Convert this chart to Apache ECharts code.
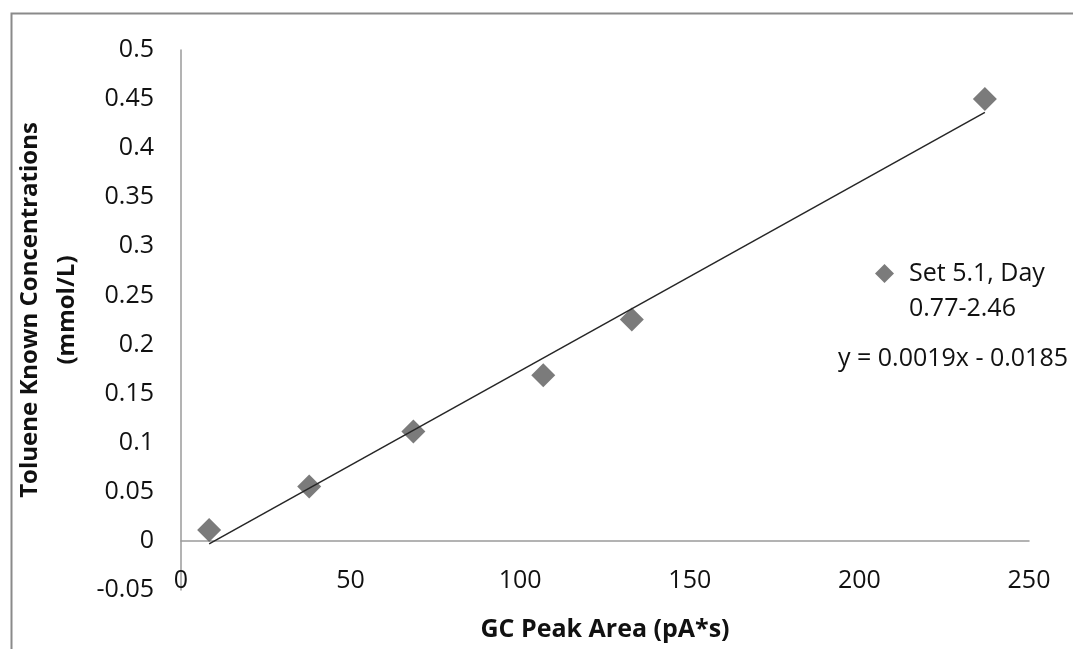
<!DOCTYPE html>
<html>
<head>
<meta charset="utf-8">
<script src="https://cdn.jsdelivr.net/npm/echarts@6/dist/echarts.min.js"></script>
<style>
html,body{margin:0;padding:0;background:#fff;}
#chart{width:1073px;height:649px;}
</style>
</head>
<body>
<div id="chart"></div>
<script>
// Data
var seriesName = 'Set 5.1, Day 0.77-2.46';
var peakArea = [8.3, 37.8, 68.5, 106.8, 132.9, 237.0];
var concentration = [0.0112, 0.0554, 0.1115, 0.1687, 0.2255, 0.450];
var equationLabel = 'y = 0.0019x - 0.0185';
var xTitle = 'GC Peak Area (pA*s)';
var yTitle = 'Toluene Known Concentrations\n(mmol/L)';

// linear least-squares trendline from the data
function fit(xs, ys) {
  var n = xs.length, mx = 0, my = 0;
  for (var i = 0; i < n; i++) { mx += xs[i]; my += ys[i]; }
  mx /= n; my /= n;
  var sxy = 0, sxx = 0;
  for (var j = 0; j < n; j++) { sxy += (xs[j]-mx)*(ys[j]-my); sxx += (xs[j]-mx)*(xs[j]-mx); }
  var b = sxy / sxx;
  return {slope: b, intercept: my - b*mx};
}
var f = fit(peakArea, concentration);
var xmin = Math.min.apply(null, peakArea), xmax = Math.max.apply(null, peakArea);
var trend = [[xmin, f.intercept + f.slope*xmin], [xmax, f.intercept + f.slope*xmax]];
var points = peakArea.map(function (x, i) { return [x, concentration[i]]; });

var font = '"Open Sans", "Noto Sans", sans-serif';
var txt = '#111';
var chart = echarts.init(document.getElementById('chart'));
chart.setOption({
  animation: false,
  backgroundColor: '#ffffff',
  textStyle: {fontFamily: font},
  grid: {left: 181, right: 44, top: 50, bottom: 59, containLabel: false, outerBoundsMode: 'none'},
  xAxis: {
    type: 'value', min: 0, max: 250, interval: 50,
    axisLine: {show: true, onZero: true, lineStyle: {color: '#9a9a9a', width: 1.5}},
    axisTick: {show: false},
    splitLine: {show: false},
    axisLabel: {color: txt, fontSize: 25, fontFamily: font, margin: -22},
    name: xTitle, nameLocation: 'middle', nameGap: 27,
    nameTextStyle: {color: txt, fontSize: 25, fontWeight: 'bold', fontFamily: font}
  },
  yAxis: {
    type: 'value', min: -0.05, max: 0.5, interval: 0.05,
    axisLine: {show: true, onZero: false, lineStyle: {color: '#9a9a9a', width: 1.5}},
    axisTick: {show: false},
    splitLine: {show: false},
    axisLabel: {color: txt, fontSize: 25, fontFamily: font, margin: 27},
    name: yTitle, nameLocation: 'middle', nameRotate: 90, nameGap: 92,
    nameTextStyle: {color: txt, fontSize: 24, fontWeight: 'bold', fontFamily: font, lineHeight: 37, padding: [0, 0, 0, 20]}
  },
  legend: {
    data: [seriesName],
    orient: 'vertical',
    left: 870, top: 216,
    icon: 'diamond',
    itemWidth: 19, itemHeight: 19, itemGap: 10,
    formatter: function () { return '\nSet 5.1, Day\n0.77-2.46'; },
    textStyle: {color: txt, fontSize: 25, fontFamily: font, lineHeight: 35, padding: [0,0,0,10]}
  },
  graphic: [
    {type: 'rect', left: 9, top: 11, shape: {width: 1100, height: 700}, style: {fill: 'none', stroke: '#8a8a8a', lineWidth: 2}, silent: true, z: -1},
    {type: 'text', left: 838, top: 346, style: {text: equationLabel, fill: txt, fontSize: 25, fontFamily: font}}
  ],
  series: [
    {
      name: seriesName, type: 'scatter', data: points,
      symbol: 'diamond', symbolSize: 24,
      itemStyle: {color: '#5a5a5a'}, z: 2
    },
    {
      name: 'trend', type: 'line', data: trend,
      symbol: 'none', lineStyle: {color: '#262626', width: 1.5}, z: 3
    }
  ]
});
</script>
</body>
</html>
